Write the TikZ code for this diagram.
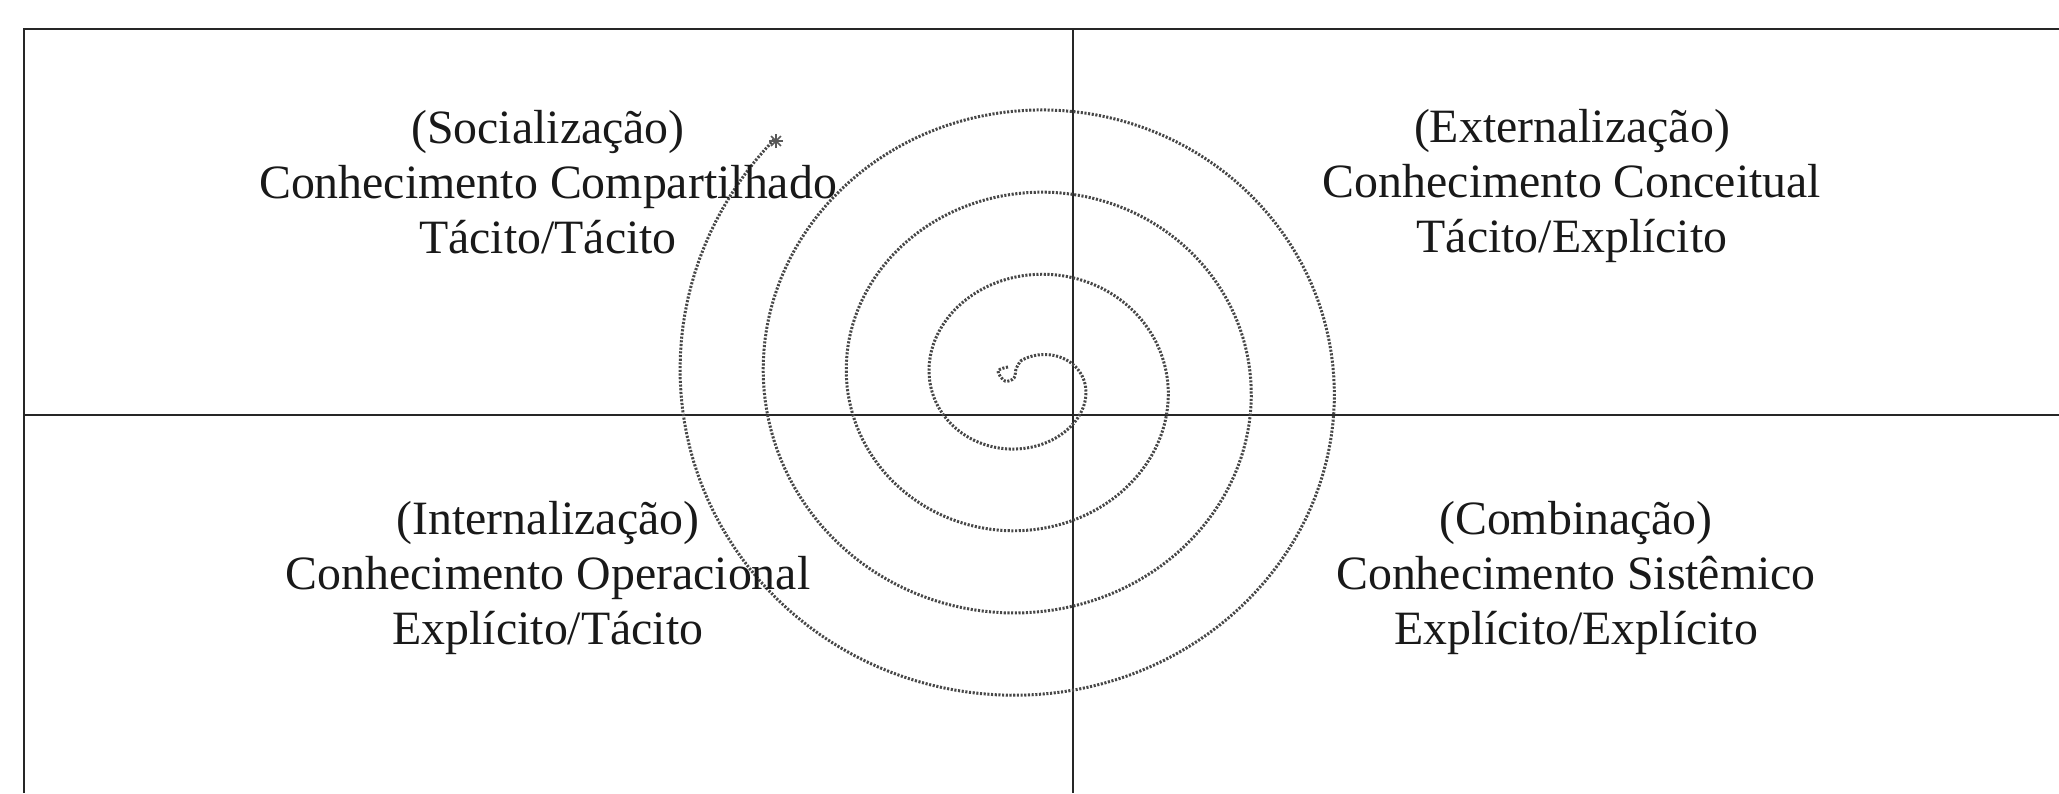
\documentclass[tikz,border=0pt]{standalone}
\usepackage{fontspec}
\setmainfont{Liberation Serif}
\usetikzlibrary{calc}
\begin{document}
\begin{tikzpicture}[x=0.01cm,y=-0.01cm,
  frame/.style={line width=0.75pt, black!85},
  spiralline/.style={line width=0.85pt, black!72, dash pattern=on 0.6pt off 0.45pt},
  lbl/.style={font=\fontsize{13.6}{15.6}\selectfont, anchor=base, inner sep=0pt, text=black!90},
  spoke/.style={line width=0.45pt, black!65}]
\useasboundingbox (0,0) rectangle (2059,793);
% frame and axes
\coordinate (tl) at (24,29);
\coordinate (tr) at (2059,29);
\coordinate (bl) at (24,793);
\coordinate (vt) at (1073,29);
\coordinate (vb) at (1073,793);
\coordinate (hl) at (24,415);
\coordinate (hr) at (2059,415);
\draw[frame] (tr) -- (tl) -- (bl);
\draw[frame] (vt) -- (vb);
\draw[frame] (hl) -- (hr);
% spiral
\draw[spiralline] plot[smooth, tension=0.6] coordinates {(1008,367) (998,371) (1005,381) (1014,378) (1016,369) (1020.4,361.1)};
\draw[spiralline] plot[domain=-0.15:15.5, samples=600, variable=\k]
  ({1028+(35.7+20.8*\k)*sin(90*\k)}, {382-(24.6+20.6*\k)*cos(90*\k)});
% asterisk at the end of the spiral
\coordinate (star) at (776,141);
\foreach \a in {0,45,90,135}
  \draw[spoke] ($(star)+(\a:7)$) -- ($(star)+(\a+180:7)$);
% labels
\node[lbl] (soc1) at (548,143) {(Socialização)};
\node[lbl] (soc2) at (548,198) {Conhecimento Compartilhado};
\node[lbl] (soc3) at (548,253) {Tácito/Tácito};
\node[lbl] (ext1) at (1572,142) {(Externalização)};
\node[lbl] (ext2) at (1572,197) {Conhecimento Conceitual};
\node[lbl] (ext3) at (1572,252) {Tácito/Explícito};
\node[lbl] (int1) at (548,534) {(Internalização)};
\node[lbl] (int2) at (548,589) {Conhecimento Operacional};
\node[lbl] (int3) at (548,644) {Explícito/Tácito};
\node[lbl] (com1) at (1576,534) {(Combinação)};
\node[lbl] (com2) at (1576,589) {Conhecimento Sistêmico};
\node[lbl] (com3) at (1576,644) {Explícito/Explícito};
\end{tikzpicture}
\end{document}
